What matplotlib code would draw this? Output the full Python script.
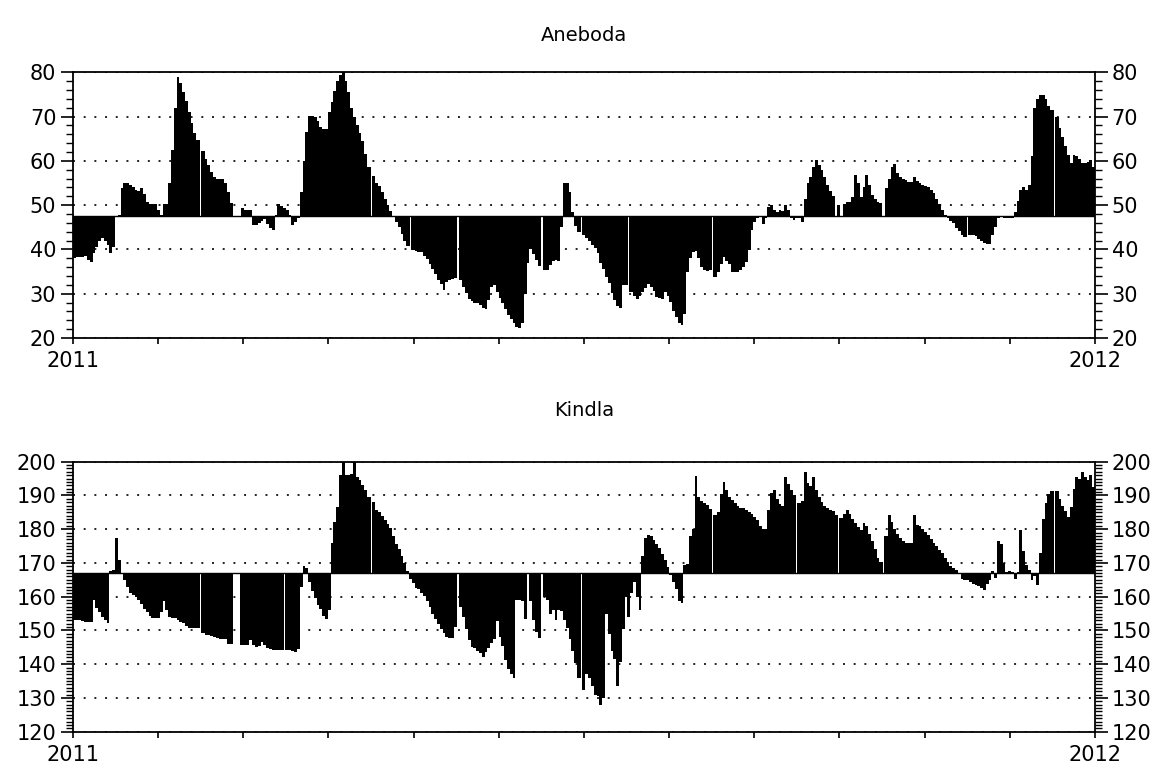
import numpy as np
import matplotlib
matplotlib.use("Agg")
import matplotlib.pyplot as plt
from matplotlib.ticker import MultipleLocator, FixedLocator

nan = np.nan

# daily values for 2011, nan = missing day
aneboda = [
    38.0, 38.2, 38.3, 38.3, 38.6, 37.6, 37.2, 39.3, 40.5, 42.0,
    42.6, 42.0, 41.0, 39.3, 40.6, 47.6, 47.8, 53.8, 55.1, 55.0,
    54.6, 54.2, 53.5, 53.2, 53.8, 52.5, 50.8, 50.2, 50.2, 50.2,
    49.0, 47.8, 50.2, 50.2, 55.0, 62.5, 72.0, 79.0, 77.5, 75.5,
    73.5, 71.0, 68.5, 66.3, 64.7, nan, 62.2, 60.5, 59.0, 57.5,
    56.3, 56.0, 56.0, 56.0, 55.0, 53.0, 50.5, 47.6, 47.6, 47.6,
    49.4, 49.0, 49.0, 49.0, 45.5, 45.6, 46.0, 46.5, 46.8, 45.8,
    44.8, 44.5, 47.8, 50.2, 49.8, 49.3, 49.0, 47.8, 45.5, 46.3,
    47.0, 53.0, 60.0, 66.5, 70.2, 70.2, 70.0, 69.0, 67.6, 67.3,
    67.3, 71.0, 73.4, 75.8, 78.0, 79.5, 80.5, 78.0, 75.5, 72.0,
    70.0, 68.0, 66.2, 64.5, 61.5, 58.7, nan, 56.5, 55.0, 54.3,
    53.0, 51.5, 50.0, 48.7, 47.6, 46.3, 45.0, 43.5, 42.0, 40.8,
    nan, 39.9, 39.7, 39.5, 39.4, 38.5, 37.8, 36.8, 35.6, 34.4,
    33.2, 32.3, 30.8, 32.7, 33.1, 33.3, 33.5, nan, 33.2, 31.5,
    30.1, 28.8, 28.3, 27.9, 27.8, 27.5, 26.7, 26.5, 28.5, 31.6,
    32.0, 30.5, 29.0, 27.8, 26.5, 25.2, 24.2, 23.5, 22.6, 22.2,
    23.5, 30.0, 37.0, 40.2, 39.0, 37.6, 36.2, nan, 35.3, 35.3,
    36.5, 37.4, 37.6, 37.3, 45.0, 55.1, 55.0, 53.0, 48.5, 45.3,
    44.0, nan, 43.3, 42.5, 42.0, 41.0, 40.3, 39.1, 37.0, 35.5,
    33.8, 32.5, 30.2, 28.6, 27.2, 26.7, 32.0, 32.0, nan, 30.4,
    29.4, 28.7, 29.5, 30.4, 31.2, 32.3, 31.5, 30.6, 29.3, 29.0,
    28.9, 30.4, 29.6, 28.2, 26.2, 24.8, 23.4, 23.0, 25.5, 35.0,
    38.0, 39.5, 39.6, 38.0, 36.1, 35.3, 35.2, 35.3, nan, 33.8,
    35.0, 36.8, 38.3, 37.5, 36.8, 35.0, 34.8, 35.0, 35.3, 36.0,
    37.2, 39.8, 44.5, 46.3, 47.2, 47.3, 45.8, 47.2, 49.7, 50.0,
    48.8, 48.5, 49.0, 48.6, 50.0, 49.0, 47.0, 46.6, 47.2, 47.0,
    46.3, 51.5, 55.0, 56.4, 58.7, 60.2, 59.0, 57.9, 56.4, 54.5,
    53.2, 52.0, 47.6, 50.0, 47.6, 50.3, 50.7, 50.7, 51.8, 56.8,
    55.0, 51.8, 54.2, 56.8, 54.6, 52.3, 51.5, 50.8, 50.5, 47.6,
    53.8, 56.0, 58.7, 59.2, 57.2, 56.4, 56.0, 55.7, 55.3, 55.3,
    56.3, 55.5, 54.9, 54.6, 54.4, 54.0, 53.5, 52.8, 51.5, 50.2,
    48.8, 47.8, 47.2, 46.5, 45.9, 44.9, 44.1, 43.2, 42.7, nan,
    43.3, 43.2, 43.0, 42.3, 42.0, 41.4, 41.3, 41.3, 43.3, 45.1,
    47.0, 47.6, 47.0, 47.0, 47.1, 47.0, 48.5, 51.0, 53.5, 54.0,
    53.5, 54.6, 61.0, 72.0, 74.0, 74.9, 74.9, 74.0, 72.3, 71.5,
    nan, 70.0, 67.4, 65.3, 63.3, 61.4, 59.6, 61.4, 61.0, 60.4,
    59.5, 59.5, 59.8, 60.2, 58.7,
]

kindla = [
    153.0, 153.0, 153.0, 152.7, 152.4, 152.6, 152.5, 159.1, 156.8, 155.4,
    154.0, 153.2, 152.2, 167.5, 167.8, 177.4, 171.0, 167.0, 165.0, 163.0,
    161.2, 160.4, 160.0, 159.0, 157.8, 156.4, 155.5, 154.3, 153.7, 153.7,
    153.7, 155.5, 158.6, 156.0, 154.0, 153.7, 153.7, 153.2, 152.6, 152.1,
    151.3, 150.8, 150.7, 150.7, 150.7, nan, 149.2, 148.8, 148.8, 148.5,
    148.2, 147.8, 147.6, 147.5, 147.5, 146.0, 146.0, nan, nan, nan,
    145.8, 145.8, 145.8, 147.2, 145.8, 145.1, 145.4, 146.5, 145.6, 144.8,
    144.4, 144.3, 144.3, 144.3, 144.3, nan, 144.2, 144.1, 143.8, 143.5,
    144.5, 163.0, 169.0, 168.5, 164.5, 161.8, 159.5, 157.5, 156.3, 154.2,
    153.3, 156.2, 176.0, 182.0, 186.5, 196.2, 201.0, 196.2, 196.2, 196.5,
    201.0, 195.5, 194.7, 193.0, 191.5, 189.5, nan, 188.0, 185.8, 185.0,
    184.0, 182.7, 181.5, 180.5, 178.0, 175.6, 174.0, 172.0, 170.0, 167.5,
    165.3, 164.0, 162.6, 162.2, 161.2, 160.3, 158.8, 157.0, 155.0, 153.4,
    151.8, 150.5, 149.3, 148.2, 147.8, 147.8, 151.0, nan, 157.0, 154.0,
    150.5, 147.3, 145.2, 144.7, 144.0, 143.3, 142.0, 143.6, 144.8, 146.3,
    147.6, 152.7, 148.0, 145.5, 141.2, 138.7, 137.2, 136.0, 159.0, 159.1,
    158.6, 153.5, nan, 158.6, 153.0, 149.5, 147.8, nan, 160.0, 159.0,
    155.0, 156.0, 153.0, 156.0, 155.7, 153.2, 150.8, 147.5, 144.0, 140.5,
    136.0, nan, 132.5, 137.0, 136.0, 133.5, 131.0, 130.5, 128.0, 130.0,
    155.0, 149.0, 144.0, 141.5, 133.5, 140.6, 150.3, 160.0, 154.0, 161.0,
    164.5, 160.0, 156.2, 172.0, 177.4, 178.4, 178.0, 176.8, 175.5, 174.3,
    172.8, 171.0, 168.7, 166.3, 164.4, 162.4, 158.8, 158.2, 169.5, 169.8,
    178.0, 180.0, 195.7, 189.5, 188.5, 187.8, 187.3, 186.0, nan, 184.3,
    185.0, 190.5, 194.0, 191.5, 189.5, 188.7, 187.8, 186.9, 186.2, 186.3,
    185.8, 185.0, 184.4, 183.7, 182.7, 181.0, 180.2, 180.0, 185.8, 190.7,
    191.5, 189.0, 187.5, 187.0, 195.5, 193.5, 191.5, 190.0, nan, 187.8,
    188.3, 197.0, 193.7, 192.8, 195.5, 191.7, 189.5, 188.0, 186.8, 186.3,
    185.8, 185.3, 184.3, nan, 183.3, 184.5, 185.8, 184.5, 183.0, 181.8,
    180.6, 179.8, 181.8, 181.0, 178.5, 176.5, 174.0, 171.5, 170.3, nan,
    178.0, 184.3, 182.0, 180.0, 178.5, 177.3, 176.4, 175.9, 175.9, 175.9,
    184.3, 181.2, 180.9, 180.2, 179.3, 178.2, 177.0, 176.0, 175.0, 173.8,
    172.9, 171.6, 170.2, 169.2, 168.4, 167.8, 166.8, 165.2, 165.0, 165.0,
    164.3, 163.8, 163.6, 163.1, 162.6, 162.0, 163.8, 165.0, 167.5, 165.5,
    176.4, 175.5, 170.0, 167.3, 167.6, 167.3, 165.2, 167.2, 179.8, 173.5,
    169.5, 167.8, 165.0, 166.0, 163.6, 173.0, 183.0, 187.8, 190.5, 191.2,
    nan, 191.2, 189.0, 187.0, 185.5, 183.5, 186.5, 192.0, 195.5, 195.0,
    197.0, 195.5, 194.5, 196.0, 192.5,
]

aneboda_base = 47.6
kindla_base = 167.0

month_ticks = np.linspace(0, 365, 13)
month_labels = ['2011'] + [''] * 11 + ['2012']

plt.rcParams['font.family'] = ['DejaVu Sans']


def fill_days(ax, vals, base, ext=0.28):
    # one step fill per run of valid days; missing days leave a thin white gap
    ok = ~np.isnan(vals)
    n = len(vals)
    i = 0
    while i < n:
        if not ok[i]:
            i += 1
            continue
        j = i
        while j + 1 < n and ok[j + 1]:
            j += 1
        edges = np.arange(i, j + 2, dtype=float)
        if i > 0:
            edges[0] -= ext
        if j < n - 1:
            edges[-1] += ext
        y = np.append(vals[i:j + 1], vals[j])
        ax.fill_between(edges, y, base, step='post', color='black', linewidth=0, zorder=2)
        i = j + 1


def draw_panel(ax, values, base, ylim, major, minor):
    vals = np.array(values, dtype=float)
    fill_days(ax, vals, base)
    ax.axhline(base, color='black', linewidth=1.0, zorder=3)

    ax.set_xlim(0, 365)
    ax.set_ylim(*ylim)
    ax.xaxis.set_major_locator(FixedLocator(month_ticks))
    ax.set_xticklabels(month_labels)
    ax.yaxis.set_major_locator(MultipleLocator(major))
    ax.yaxis.set_minor_locator(MultipleLocator(minor))

    ax.set_axisbelow(True)
    ax.grid(axis='y', color='#222222', linestyle=(0, (1, 4.5)), linewidth=1.4)

    ax.tick_params(axis='y', which='both', direction='out', left=True, right=True,
                   labelleft=True, labelright=True, labelsize=15, colors='black')
    ax.tick_params(axis='y', which='major', length=9, width=1.2, pad=3)
    ax.tick_params(axis='y', which='minor', length=5, width=1.0)
    ax.tick_params(axis='x', which='major', direction='out', length=4.5, width=1.2,
                   labelsize=15, pad=5)
    for s in ax.spines.values():
        s.set_linewidth(1.3)
        s.set_zorder(4)


fig = plt.figure(figsize=(11.64, 7.67), dpi=100)
ax1 = fig.add_axes([0.0627, 0.5593, 0.878, 0.3464])
ax2 = fig.add_axes([0.0627, 0.0460, 0.878, 0.3520])

draw_panel(ax1, aneboda, aneboda_base, (20, 80), 10, 2)
draw_panel(ax2, kindla, kindla_base, (120, 200), 10, 1)

fig.text(0.5017, 0.954, 'Aneboda', ha='center', va='center', fontsize=14)
fig.text(0.5017, 0.465, 'Kindla', ha='center', va='center', fontsize=14)

fig.savefig('out.png', dpi=100)
